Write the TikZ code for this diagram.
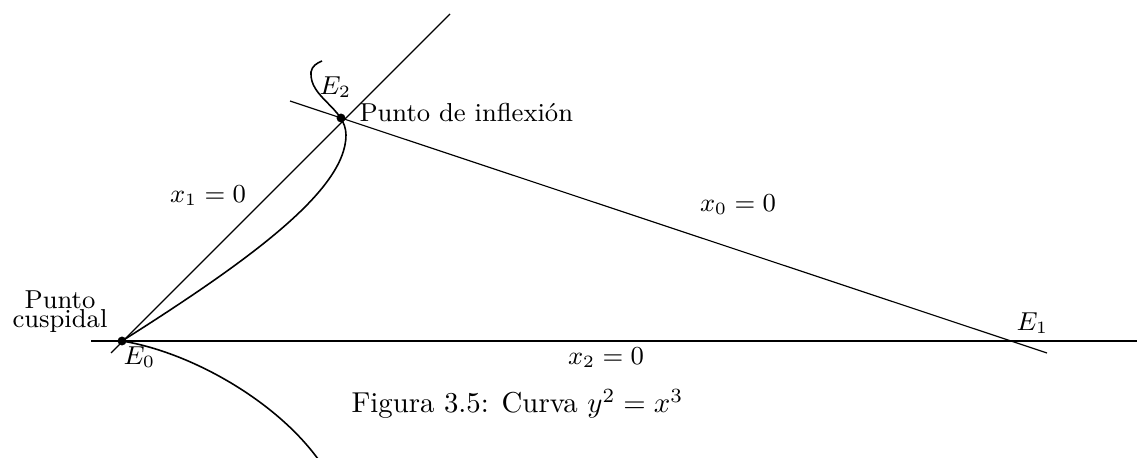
\documentclass[tikz,border=0pt]{standalone}
\begin{document}
\begin{tikzpicture}[x=0.3472pt,y=-0.3472pt,
  axisline/.style={line width=0.4pt},
  cubic/.style={line width=0.55pt},
  dotpt/.style={circle,fill=black,inner sep=0pt,minimum size=3.1pt},
  lbl/.style={inner sep=0pt,font=\small},
]
\useasboundingbox (0,0) rectangle (1137,458);
% points
\coordinate (c0) at (122,341);
\coordinate (c2) at (341,118);
\coordinate (E1) at (1015,341);
\coordinate (x2a) at (91,341);
\coordinate (x2b) at (1137,341);
\coordinate (x1a) at (111,353);
\coordinate (x1b) at (450,14);
\coordinate (x0a) at (290,101);
\coordinate (x0b) at (1047,353);
% lines
\draw[axisline] (x2a) -- (x2b);
\draw[axisline] (x1a) -- (x1b);
\draw[axisline] (x0a) -- (x0b);
% curve
\draw[cubic] (c0) .. controls (250,260) and (346,190) .. (346,135)
  .. controls (346,108) and (309,98) .. (311,72)
  .. controls (312,66) and (317,63) .. (322,61);
\draw[cubic] (c0) .. controls (190,352) and (275,400) .. (318,459);
% dots
\node[dotpt] (E0) at (c0) {};
\node[dotpt] (E2) at (c2) {};
% labels
\node[lbl,anchor=base west] (lE0) at (123,365) {$E_0$};
\node[lbl,anchor=base west] (lE2) at (319,95) {$E_2$};
\node[lbl,anchor=base west] (lE1) at (1016,331) {$E_1$};
\node[lbl,anchor=base] (lx1) at (208,203) {$x_1=0$};
\node[lbl,anchor=base] (lx0) at (738,212) {$x_0=0$};
\node[lbl,anchor=base] (lx2) at (606,365) {$x_2=0$};
\node[lbl,anchor=base west] (infl) at (359,122) {Punto de inflexión};
\node[lbl,anchor=south,align=center] (cusp) at (60,333) {Punto\\[-4.3pt]cuspidal};
\node[inner sep=0pt,anchor=base west] (cap) at (351,413) {Figura 3.5: Curva $y^2=x^3$};
\end{tikzpicture}
\end{document}
